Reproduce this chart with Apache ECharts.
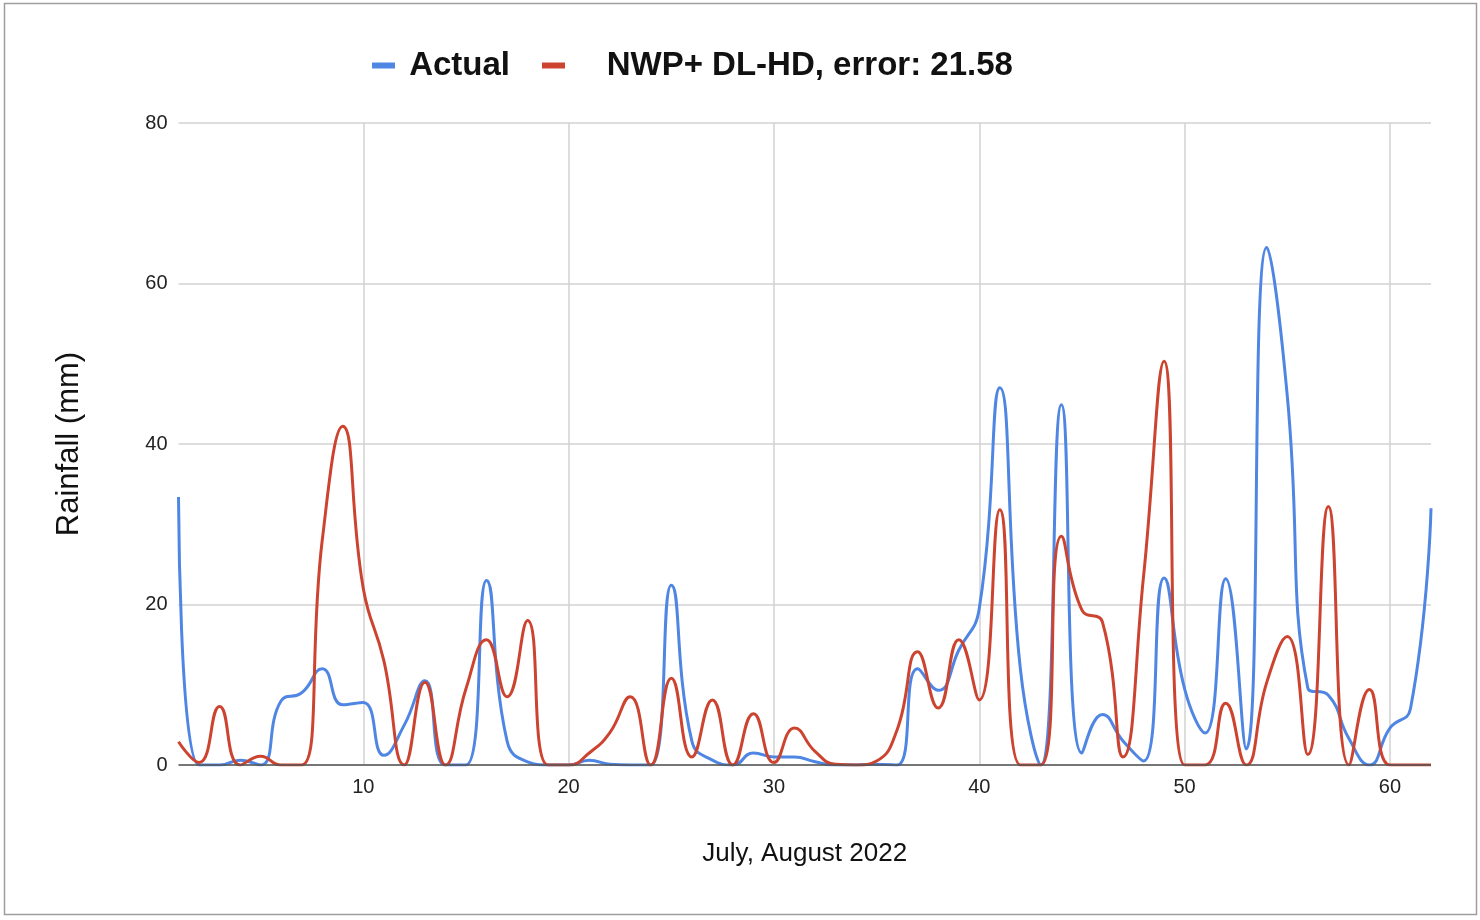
<!DOCTYPE html>
<html>
<head>
<meta charset="utf-8">
<script src="https://cdn.jsdelivr.net/npm/echarts@6/dist/echarts.min.js"></script>
<style>
  html, body { margin: 0; padding: 0; background: #fff; }
  #chart { width: 1480px; height: 920px; }
</style>
</head>
<body>
<div id="chart"></div>
<script>
// days of July, August 2022 (index along the x axis)
var days = [1, 2, 3, 4, 5, 6, 7, 8, 9, 10, 11, 12, 13, 14, 15, 16, 17, 18, 19, 20,
  21, 22, 23, 24, 25, 26, 27, 28, 29, 30, 31, 32, 33, 34, 35, 36, 37, 38, 39, 40,
  41, 42, 43, 44, 45, 46, 47, 48, 49, 50, 51, 52, 53, 54, 55, 56, 57, 58, 59, 60, 61, 62]

// observed rainfall (mm)
var actual = [33.4, 0, 0, 0.6, 0, 8, 9, 12, 7.5, 7.8, 1.2, 5, 10.5, 0, 0, 23, 3, 0.4, 0, 0,
  0.6, 0.1, 0, 0, 22.4, 3, 0.6, 0, 1.5, 1, 1, 0.4, 0, 0, 0.1, 0, 12, 9.3, 14.3, 19.5,
  47, 12, 0, 44.9, 1.5, 6.3, 3, 0.5, 23.3, 9.5, 4, 23.2, 2, 64.5, 46, 9.6, 8.7, 3.3, 0, 4.6, 7, 32]

// model forecast NWP+ DL-HD (mm)
var forecast = [2.9, 0.3, 7.3, 0, 1.1, 0, 0, 28, 42.2, 22, 13, 0, 10.3, 0, 9.5, 15.6, 8.5, 18, 0, 0,
  1.5, 4, 8.5, 0, 10.8, 1, 8.1, 0, 6.4, 0.3, 4.6, 1.7, 0.1, 0, 0.5, 4.4, 14.1, 7.1, 15.6, 8.1,
  31.8, 0, 0, 28.5, 19.3, 17.8, 1, 23.5, 50.3, 0, 0, 7.7, 0, 10.3, 16, 1.3, 32.2, 0, 9.4, 0, 0, 0]

var seriesNames = ['Actual', 'NWP+ DL-HD, error: 21.58']
var yTicks = [0, 20, 40, 60, 80]

function pairs (vals) {
  return days.map(function (d, i) { return [d, vals[i]] })
}

var myChart = echarts.init(document.getElementById('chart'))
// legend label padding, the sheet puts a wide gap before the 2nd name
var pad = { 'Actual': ' ', 'NWP+ DL-HD, error: 21.58': '    ' }

myChart.setOption({
  animation: false,
  textStyle: { fontFamily: 'Liberation Sans, Arial, sans-serif' },
  graphic: [{
    type: 'rect',
    shape: { x: 4.5, y: 3.5, width: 1472, height: 911 },
    style: { fill: 'none', stroke: '#9e9e9e', lineWidth: 1.5 },
    silent: true
  }],
  legend: {
    data: seriesNames,
    left: 367,
    top: 44,
    itemWidth: 23,
    itemHeight: 6,
    itemGap: 32,
    icon: 'rect',
    formatter: function (name) { return pad[name] + name },
    textStyle: { fontSize: 33, fontWeight: 'bold', color: '#111' }
  },
  grid: { left: 178.5, right: 49, top: 123, bottom: 155 },
  xAxis: {
    type: 'value',
    min: days[0],
    max: days[days.length - 1],
    name: 'July, August 2022',
    nameLocation: 'middle',
    nameGap: 76,
    nameTextStyle: { fontSize: 26, color: '#111' },
    axisLine: { show: false },
    axisTick: { show: false },
    axisLabel: {
      fontSize: 20, color: '#222', margin: 12,
      showMinLabel: false, showMaxLabel: false
    },
    splitLine: {
      show: true, showMinLine: false, showMaxLine: false,
      lineStyle: { color: '#d2d2d2', width: 1.5 }
    }
  },
  yAxis: {
    type: 'value',
    min: yTicks[0],
    max: yTicks[yTicks.length - 1],
    interval: 20,
    name: 'Rainfall (mm)',
    nameLocation: 'middle',
    nameGap: 94,
    nameTextStyle: { fontSize: 31, color: '#111' },
    axisLine: { show: false },
    axisTick: { show: false },
    axisLabel: { fontSize: 20, color: '#222', margin: 11 },
    splitLine: { lineStyle: { color: '#d2d2d2', width: 1.5 } }
  },
  series: [
    {
      name: seriesNames[0],
      type: 'line',
      data: pairs(actual),
      smooth: 0.5,
      symbol: 'none',
      lineStyle: { width: 3, color: '#4f86e3' },
      itemStyle: { color: '#4f86e3' },
      markLine: {
        silent: true, symbol: 'none', label: { show: false },
        lineStyle: { color: '#555', width: 1.5, type: 'solid' },
        data: [{ yAxis: 0 }]
      },
      z: 3
    },
    {
      name: seriesNames[1],
      type: 'line',
      data: pairs(forecast),
      smooth: 0.5,
      symbol: 'none',
      lineStyle: { width: 3, color: '#cc4430' },
      itemStyle: { color: '#cc4430' },
      z: 4
    }
  ]
})
</script>
</body>
</html>
